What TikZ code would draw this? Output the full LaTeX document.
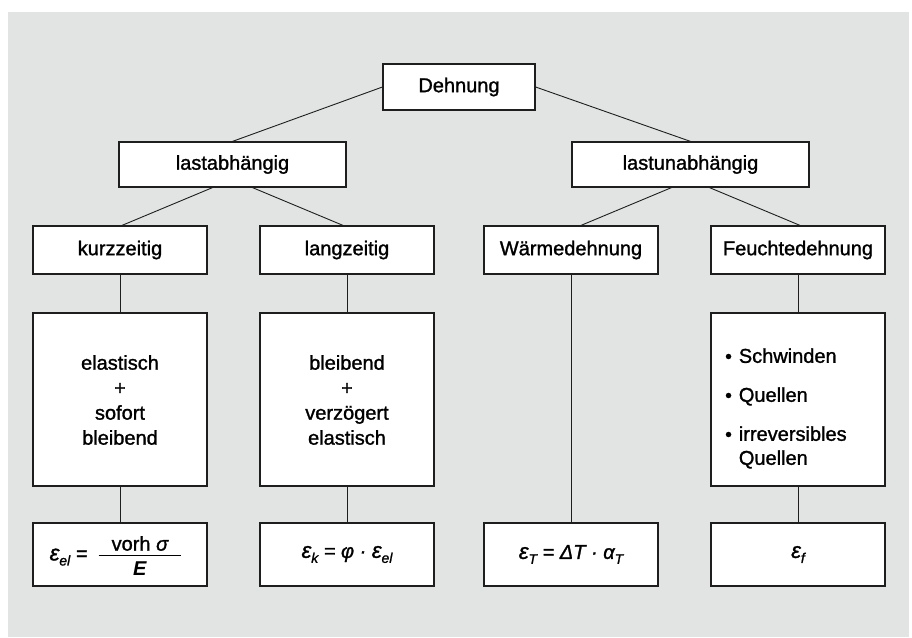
\documentclass[tikz,border=0pt]{standalone}
\usepackage{fontspec}
\setmainfont{Liberation Sans}[UprightFeatures={FakeBold=1.3},ItalicFeatures={FakeBold=1.3}]
\definecolor{bggray}{HTML}{E2E4E3}
\definecolor{linegray}{HTML}{1E1E1E}
\newcommand\subtxt[1]{\raisebox{-5pt}{\fontsize{14}{14}\selectfont #1}}
\newcommand\eps{{\fontsize{22}{22}\selectfont ε}}
\newcommand\bul{{\fontsize{19}{19}\selectfont •}}
\tikzset{
  box/.style={draw=linegray, fill=white, line width=1.2pt, inner sep=0pt, minimum width=174pt},
  toplabel/.style={font=\fontsize{20}{24}\selectfont, text=black},
  txt/.style={font=\fontsize{20}{25}\selectfont, align=center, inner sep=0pt, text=black},
  conn/.style={draw=linegray, line width=0.9pt},
  formula/.style={font=\fontsize{20}{24}\selectfont\itshape, inner sep=0pt, text=black}
}
\begin{document}
\begin{tikzpicture}[x=1pt,y=-1pt]
\useasboundingbox (0,0) rectangle (912,637);
\fill[bggray] (8,12) rectangle (909,637);

% level 0
\node[box, toplabel, minimum width=152pt, minimum height=46pt] (D) at (459,87) {Dehnung};
% level 1
\node[box, toplabel, minimum width=227pt, minimum height=45pt] (LA) at (232.5,164.5) {lastabhängig};
\node[box, toplabel, minimum width=237pt, minimum height=45pt] (LU) at (690.5,164.5) {lastunabhängig};
% level 2
\node[box, toplabel, minimum height=48pt] (K) at (120,250) {kurzzeitig};
\node[box, toplabel, minimum height=48pt] (L) at (347,250) {langzeitig};
\node[box, toplabel, minimum height=48pt] (W) at (571,250) {Wärmedehnung};
\node[box, toplabel, minimum height=48pt] (F) at (798,250) {Feuchtedehnung};
% level 3
\node[box, minimum height=173pt] (KB) at (120,399.5) {};
\node[box, minimum height=173pt] (LB) at (347,399.5) {};
\node[box, minimum height=173pt] (FB) at (798,399.5) {};
\node[txt] (KBt) at (120,400) {elastisch\\+\\sofort\\bleibend};
\node[txt] (LBt) at (347,400) {bleibend\\+\\verzögert\\elastisch};
\node[inner sep=0pt, anchor=west, font=\fontsize{20}{24}\selectfont] (FBt) at (725,409) {%
  \begin{tabular}{@{}l@{\hspace{7pt}}l@{}}\bul&Schwinden\\[15pt]\bul&Quellen\\[15pt]\bul&irreversibles\\&Quellen\end{tabular}};
% level 4
\node[box, minimum height=63pt] (KF) at (120,554.5) {};
\node[box, minimum height=63pt] (LF) at (347,554.5) {};
\node[box, minimum height=63pt] (WF) at (571,554.5) {};
\node[box, minimum height=63pt] (FF) at (798,554.5) {};
\node[formula] (KFt) at (116,556) {\eps\subtxt{el} =\hspace{10pt}$\frac{\mbox{\rule[-4pt]{0pt}{0pt}\hspace{13pt}\upshape vorh \itshape σ\hspace{13pt}}}{\mbox{\rule{0pt}{20pt}\itshape\bfseries E}}$};
\node[formula] (LFt) at (347,554.5) {\eps\subtxt{k} = φ · \eps\subtxt{el}};
\node[formula] (WFt) at (571,554.5) {\eps\subtxt{T} = ΔT · α\subtxt{T}};
\node[formula] (FFt) at (798,554.5) {\eps\subtxt{f}};

% connectors
\draw[conn] (D.west) -- (LA.north);
\draw[conn] (D.east) -- (LU.north);
\draw[conn] ([xshift=-20pt]LA.south) -- ([xshift=2pt]K.north);
\draw[conn] ([xshift=20pt]LA.south) -- ([xshift=-4pt]L.north);
\draw[conn] ([xshift=-19pt]LU.south) -- ([xshift=10pt]W.north);
\draw[conn] ([xshift=19pt]LU.south) -- ([xshift=2pt]F.north);
\draw[conn] (K.south) -- (KB.north);
\draw[conn] (KB.south) -- (KF.north);
\draw[conn] (L.south) -- (LB.north);
\draw[conn] (LB.south) -- (LF.north);
\draw[conn] (W.south) -- (WF.north);
\draw[conn] (F.south) -- (FB.north);
\draw[conn] (FB.south) -- (FF.north);
\end{tikzpicture}
\end{document}
